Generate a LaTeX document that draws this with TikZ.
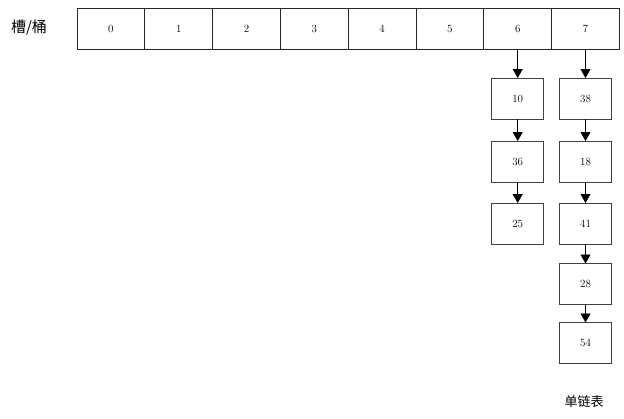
\documentclass[tikz,border=0pt]{standalone}
\usepackage{fontspec}
\newfontfamily\cjk{Noto Sans CJK SC}
\usetikzlibrary{arrows.meta}

\tikzset{
  slot/.style={draw=black!85, line width=0.8pt, minimum width=67.8pt, minimum height=40.5pt, inner sep=0pt, outer sep=0pt, font=\fontsize{11}{13}\selectfont},
  item/.style={draw=black!75, line width=0.8pt, minimum width=52pt, minimum height=41pt, inner sep=0pt, outer sep=0pt, font=\fontsize{11}{13}\selectfont},
  link/.style={-{Triangle[length=9pt,width=10pt]}, line width=0.8pt}
}

\begin{document}
\begin{tikzpicture}[x=1pt,y=-1pt]
\useasboundingbox (0,0) rectangle (624,418);
% slots
\node[font=\cjk\fontsize{15}{17}\selectfont] (label) at (29,28) {槽/桶};
\node[slot] (s0) at (110.9,28.7) {0};
\node[slot] (s1) at (178.7,28.7) {1};
\node[slot] (s2) at (246.5,28.7) {2};
\node[slot] (s3) at (314.3,28.7) {3};
\node[slot] (s4) at (382.1,28.7) {4};
\node[slot] (s5) at (449.9,28.7) {5};
\node[slot] (s6) at (517.7,28.7) {6};
\node[slot] (s7) at (585.5,28.7) {7};
% chain of slot 6
\node[item] (a1) at (517.7,98.5) {10};
\node[item] (a2) at (517.7,161.5) {36};
\node[item] (a3) at (517.7,223.5) {25};
% chain of slot 7
\node[item] (b1) at (585.5,98.5) {38};
\node[item] (b2) at (585.5,161.5) {18};
\node[item] (b3) at (585.5,223.5) {41};
\node[item] (b4) at (585.5,284) {28};
\node[item] (b5) at (585.5,343) {54};
\node[font=\cjk\fontsize{13}{15}\selectfont] (list) at (584,402) {单链表};
\draw[link] (s6) -- (a1);
\draw[link] (a1) -- (a2);
\draw[link] (a2) -- (a3);
\draw[link] (s7) -- (b1);
\draw[link] (b1) -- (b2);
\draw[link] (b2) -- (b3);
\draw[link] (b3) -- (b4);
\draw[link] (b4) -- (b5);
\end{tikzpicture}
\end{document}
